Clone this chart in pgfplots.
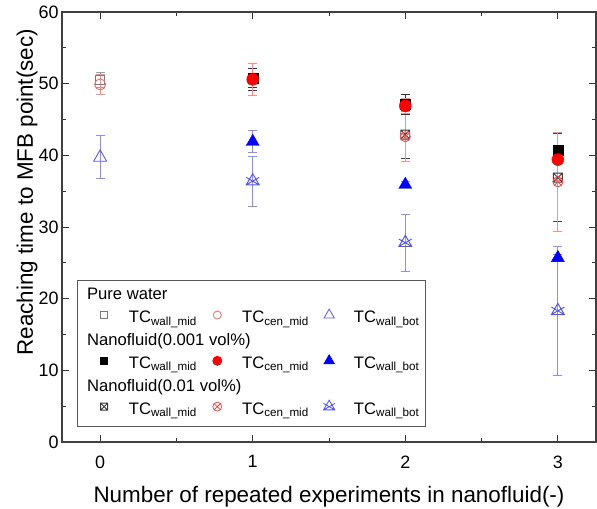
\documentclass[border=0pt]{standalone}
\usepackage{fontspec}
\setmainfont{Liberation Sans}
\usepackage{pgfplots}
\pgfplotsset{compat=1.18}

\definecolor{pwgray}{HTML}{7A7A7A}
\definecolor{pwred}{HTML}{F06A6A}
\definecolor{pwblue}{HTML}{5A5AF5}
\definecolor{ebgray}{HTML}{A0A0A0}
\definecolor{ebred}{HTML}{FF8C8C}
\definecolor{ebblue}{HTML}{8C8CFF}
\definecolor{nfred}{HTML}{FF0000}
\definecolor{nfblue}{HTML}{0000FF}
\definecolor{xgray}{HTML}{383838}
\definecolor{xred}{HTML}{FF4A4A}
\definecolor{xblue}{HTML}{5050FF}

\pgfdeclareplotmark{boxx}{%
  \pgfpathrectangle{\pgfpoint{-\pgfplotmarksize}{-\pgfplotmarksize}}{\pgfpoint{2\pgfplotmarksize}{2\pgfplotmarksize}}%
  \pgfpathmoveto{\pgfpoint{-\pgfplotmarksize}{-\pgfplotmarksize}}%
  \pgfpathlineto{\pgfpoint{\pgfplotmarksize}{\pgfplotmarksize}}%
  \pgfpathmoveto{\pgfpoint{-\pgfplotmarksize}{\pgfplotmarksize}}%
  \pgfpathlineto{\pgfpoint{\pgfplotmarksize}{-\pgfplotmarksize}}%
  \pgfusepathqstroke}
\pgfdeclareplotmark{trix}{%
  \pgfpathmoveto{\pgfpoint{0pt}{\pgfplotmarksize}}%
  \pgfpathlineto{\pgfpointpolar{210}{\pgfplotmarksize}}%
  \pgfpathlineto{\pgfpointpolar{330}{\pgfplotmarksize}}%
  \pgfpathclose
  \pgfpathmoveto{\pgfpointpolar{150}{\pgfplotmarksize}}%
  \pgfpathlineto{\pgfpointpolar{330}{\pgfplotmarksize}}%
  \pgfpathmoveto{\pgfpointpolar{30}{\pgfplotmarksize}}%
  \pgfpathlineto{\pgfpointpolar{210}{\pgfplotmarksize}}%
  \pgfusepathqstroke}

\pgfplotstableread{
x y e
0 50.5 1.0
}\pwwm
\pgfplotstableread{
x y e
0 49.9 1.4
}\pwcm
\pgfplotstableread{
x y e
0 39.7 3.0
}\pwwb
\pgfplotstableread{
x y e
1 50.8 1.3
2 47.1 1.4
3 40.7 0.5
}\nawm
\pgfplotstableread{
x y e
1 50.6 2.2
2 46.9 1.0
3 39.4 0.6
}\nacm
\pgfplotstableread{
x y e
1 41.9 1.5
2 35.9 0.4
3 25.7 0.5
}\nawb
\pgfplotstableread{
x y e
1 50.6 1.5
2 42.9 3.4
3 36.9 6.2
}\nbwm
\pgfplotstableread{
x y e
1 50.6 0.6
2 42.6 3.5
3 36.3 6.9
}\nbcm
\pgfplotstableread{
x y e
1 36.4 3.5
2 27.8 4.0
3 18.3 9.0
}\nbwb

\pgfplotsset{
  ebar/.style={error bars/.cd, y dir=both, y explicit,
    error bar style={#1, line width=1bp},
    error mark options={#1, rotate=90, mark size=4.5bp, line width=1bp}},
}

\begin{document}
\begin{tikzpicture}
\useasboundingbox (-62bp,-67bp) rectangle (535bp,442bp);
\begin{axis}[
  scale only axis, width=534bp, height=430bp,
  xmin=-0.25, xmax=3.25, ymin=0, ymax=60,
  xtick={0,1,2,3}, ytick={0,10,...,60},
  minor x tick num=1, minor y tick num=1,
  tick align=inside,
  major tick length=7bp, minor tick length=4bp,
  axis line style={draw=black!75, line width=1.3bp},
  every tick/.style={black!80, line width=1bp},
  tick label style={font=\fontsize{18}{20}\selectfont},
  /pgf/number format/assume math mode=true,
  xticklabel style={yshift=-10bp},
  xlabel={Number of repeated experiments in nanofluid(-)},
  ylabel={Reaching time to MFB point(sec)},
  every axis x label/.style={at={(axis description cs:0.5,0)}, anchor=base, yshift=-60bp, font=\fontsize{22.5}{26}\selectfont},
  every axis y label/.style={at={(axis description cs:0,0.581)}, xshift=-29bp, rotate=90, anchor=base, font=\fontsize{22.5}{26}\selectfont},
  legend columns=3,
  legend cell align=left,
  legend image code/.code={\path (0bp,4bp) (44.4bp,4bp); \draw[#1] plot[only marks] coordinates {(20bp,4bp)};},
  legend style={at={(axis description cs:0.0281,0.0349)}, anchor=south west,
    draw=black!65, line width=0.8bp, fill=white,
    inner xsep=6.3bp, inner ysep=4.5bp, row sep=0pt, column sep=0pt,
    font=\fontsize{16.7}{19}\selectfont,
    nodes={inner sep=0pt, text height=15bp, text depth=7.9bp}},
]
% legend
\addlegendimage{empty legend}\addlegendentry{\makebox[0pt][l]{\hspace*{-42.4bp}Pure water}}
\addlegendimage{empty legend}\addlegendentry{}
\addlegendimage{empty legend}\addlegendentry{}
\addlegendimage{mark=square, draw=pwgray, mark size=3.3bp, line width=0.8bp}\addlegendentry{TC\textsubscript{wall\_mid}}
\addlegendimage{mark=o, draw=pwred, mark size=4bp, line width=0.8bp}\addlegendentry{TC\textsubscript{cen\_mid}}
\addlegendimage{mark=triangle, draw=pwblue, mark size=6bp, line width=0.8bp}\addlegendentry{TC\textsubscript{wall\_bot}}
\addlegendimage{empty legend}\addlegendentry{\makebox[0pt][l]{\hspace*{-42.4bp}Nanofluid(0.001 vol\%)}}
\addlegendimage{empty legend}\addlegendentry{}
\addlegendimage{empty legend}\addlegendentry{}
\addlegendimage{mark=square*, draw=black, fill=black, mark size=3.5bp}\addlegendentry{TC\textsubscript{wall\_mid}}
\addlegendimage{mark=*, draw=nfred, fill=nfred, mark size=4.5bp}\addlegendentry{TC\textsubscript{cen\_mid}}
\addlegendimage{mark=triangle*, draw=nfblue, fill=nfblue, mark size=6bp}\addlegendentry{TC\textsubscript{wall\_bot}}
\addlegendimage{empty legend}\addlegendentry{\makebox[0pt][l]{\hspace*{-42.4bp}Nanofluid(0.01 vol\%)}}
\addlegendimage{empty legend}\addlegendentry{}
\addlegendimage{empty legend}\addlegendentry{}
\addlegendimage{mark=boxx, draw=xgray, mark size=3.5bp, line width=0.8bp}\addlegendentry{TC\textsubscript{wall\_mid}}
\addlegendimage{mark=otimes, draw=xred, mark size=4.5bp, line width=0.8bp}\addlegendentry{TC\textsubscript{cen\_mid}}
\addlegendimage{mark=trix, draw=xblue, mark size=6.5bp, line width=0.8bp}\addlegendentry{TC\textsubscript{wall\_bot}}

% pure water
\addplot[forget plot, only marks, mark=square, mark size=4.5bp, mark options={draw=pwgray, fill=none, line width=0.9bp}, ebar=ebgray]
  table[x=x, y=y, y error=e] {\pwwm};
\addplot[forget plot, only marks, mark=o, mark size=5.5bp, mark options={draw=pwred, fill=none, line width=0.9bp}, ebar=ebred]
  table[x=x, y=y, y error=e] {\pwcm};
\addplot[forget plot, only marks, mark=triangle, mark size=7.5bp, mark options={draw=pwblue, fill=none, line width=0.9bp}, ebar=ebblue]
  table[x=x, y=y, y error=e] {\pwwb};
% nanofluid 0.01
\addplot[forget plot, only marks, mark=trix, mark size=7.5bp, mark options={draw=xblue, fill=none, line width=0.9bp}, ebar=ebblue]
  table[x=x, y=y, y error=e] {\nbwb};
\addplot[forget plot, only marks, mark=boxx, mark size=4.5bp, mark options={draw=xgray, fill=none, line width=0.9bp}, ebar=black!75]
  table[x=x, y=y, y error=e] {\nbwm};
\addplot[forget plot, only marks, mark=otimes, mark size=5bp, mark options={draw=xred, fill=none, line width=0.9bp}, ebar=ebred]
  table[x=x, y=y, y error=e] {\nbcm};
% nanofluid 0.001
\addplot[forget plot, only marks, mark=triangle*, mark size=7.5bp, mark options={draw=nfblue, fill=nfblue}, ebar=ebblue]
  table[x=x, y=y, y error=e] {\nawb};
\addplot[forget plot, only marks, mark=square*, mark size=5bp, mark options={draw=black, fill=black}, ebar=black!80]
  table[x=x, y=y, y error=e] {\nawm};
\addplot[forget plot, only marks, mark=*, mark size=6bp, mark options={draw=nfred, fill=nfred}, ebar=ebred]
  table[x=x, y=y, y error=e] {\nacm};
\end{axis}
\end{tikzpicture}
\end{document}
